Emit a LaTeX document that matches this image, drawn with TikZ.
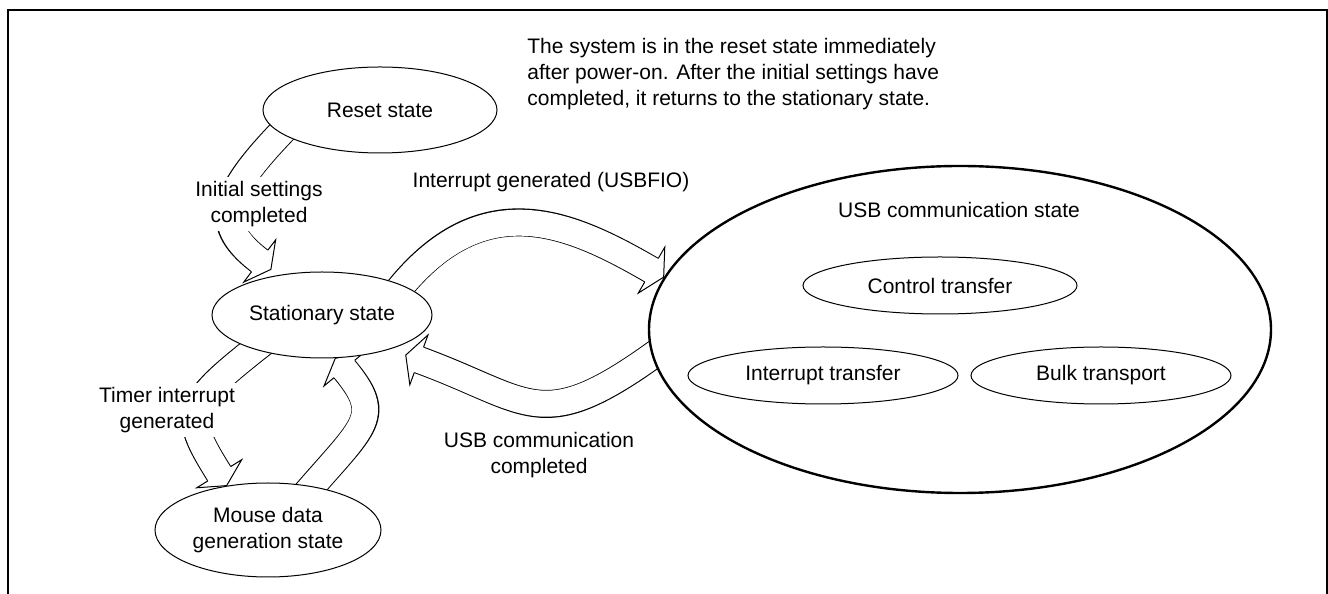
\documentclass[tikz,border=0pt]{standalone}
\usepackage{fontspec}
\setmainfont{Liberation Sans}
\usetikzlibrary{calc, shapes.geometric, decorations.markings}
\pgfdeclarelayer{back}
\pgfsetlayers{back,main}

% hollow block arrow along a path
\newcommand{\blockarrow}[1]{%
  \draw[line width=14pt, shorten <=-14pt, shorten >=7pt] #1;
  \path[decorate, decoration={markings, mark=at position 0.999 with {%
      \fill[white] (-7pt,13.25pt) -- (0pt,0pt) -- (-7pt,-13.25pt) -- cycle;
      \draw[line width=0.5pt] (-7pt,6.75pt) -- (-7pt,13.25pt) -- (0pt,0pt) -- (-7pt,-13.25pt) -- (-7pt,-6.75pt);}}] #1;
  \draw[white, line width=13pt, shorten <=-15pt, shorten >=6pt] #1;}

\begin{document}
\begin{tikzpicture}[x=0.5pt, y=0.5pt,
    font=\fontsize{10.5}{13}\selectfont,
    state/.style={draw, ellipse, fill=white, line width=0.5pt, inner sep=1pt, align=center},
    note/.style={fill=white, inner sep=2pt, align=center}
  ]
  \useasboundingbox (0,0) rectangle (1328,594);
  % frame
  \draw[line width=1pt] (7.5,0) |- (1327,584) -- (1327,0);

  % states
  \node[state, minimum width=117pt, minimum height=43pt] (reset) at (380,484) {Reset state};
  \node[state, minimum width=110pt, minimum height=43pt] (stat) at (322,279) {Stationary state};
  \node[state, minimum width=113pt, minimum height=47pt] (mouse) at (268,64) {Mouse data\\generation state};
  \node[state, line width=1.2pt, minimum width=311pt, minimum height=163.5pt] (usb) at (960,264.5) {};
  \node (usbtitle) at (959,384) {USB communication state};
  \node[state, minimum width=137pt, minimum height=28.5pt] (ctrl) at (940,308.5) {Control transfer};
  \node[state, minimum width=135pt, minimum height=28.5pt] (intr) at (823,218.5) {Interrupt transfer};
  \node[state, minimum width=130pt, minimum height=28.5pt] (bulk) at (1101,218.5) {Bulk transport};

  % labels
  \node[note] (lblinit) at (259,390) {Initial settings\\completed};
  \node[note] (lbltimer) at (167,184) {Timer interrupt\\generated};
  \node[note] (lblirq) at (551,412) {Interrupt generated (USBFIO)};
  \node[note] (lbldone) at (539,139) {USB communication\\completed};
  \node[note, align=left, anchor=north west, inner sep=0pt] (info) at (527,556)
    {The system is in the reset state immediately\\after power-on. After the initial settings have\\completed, it returns to the stationary state.};

  % free arrow tips
  \coordinate (tipinit) at ($(stat.north)+(-51,2)$);
  \coordinate (tipdone) at ($(stat.east)+(-27,-40)$);

  \begin{pgfonlayer}{back}
    \blockarrow{(reset.193) .. controls +(225:80) and +(143:80) .. (tipinit)}
    \blockarrow{(stat.21) .. controls +(55:130) and +(150:110) .. (usb.170)}
    \blockarrow{(stat.207) .. controls +(218:90) and +(122:90) .. (mouse.133)}
    \blockarrow{(mouse.45) .. controls +(50:80) and +(-50:80) .. (stat.-73)}
    \blockarrow{(usb.185) .. controls +(217:140) and +(-20:140) .. (tipdone)}
  \end{pgfonlayer}
\end{tikzpicture}
\end{document}
